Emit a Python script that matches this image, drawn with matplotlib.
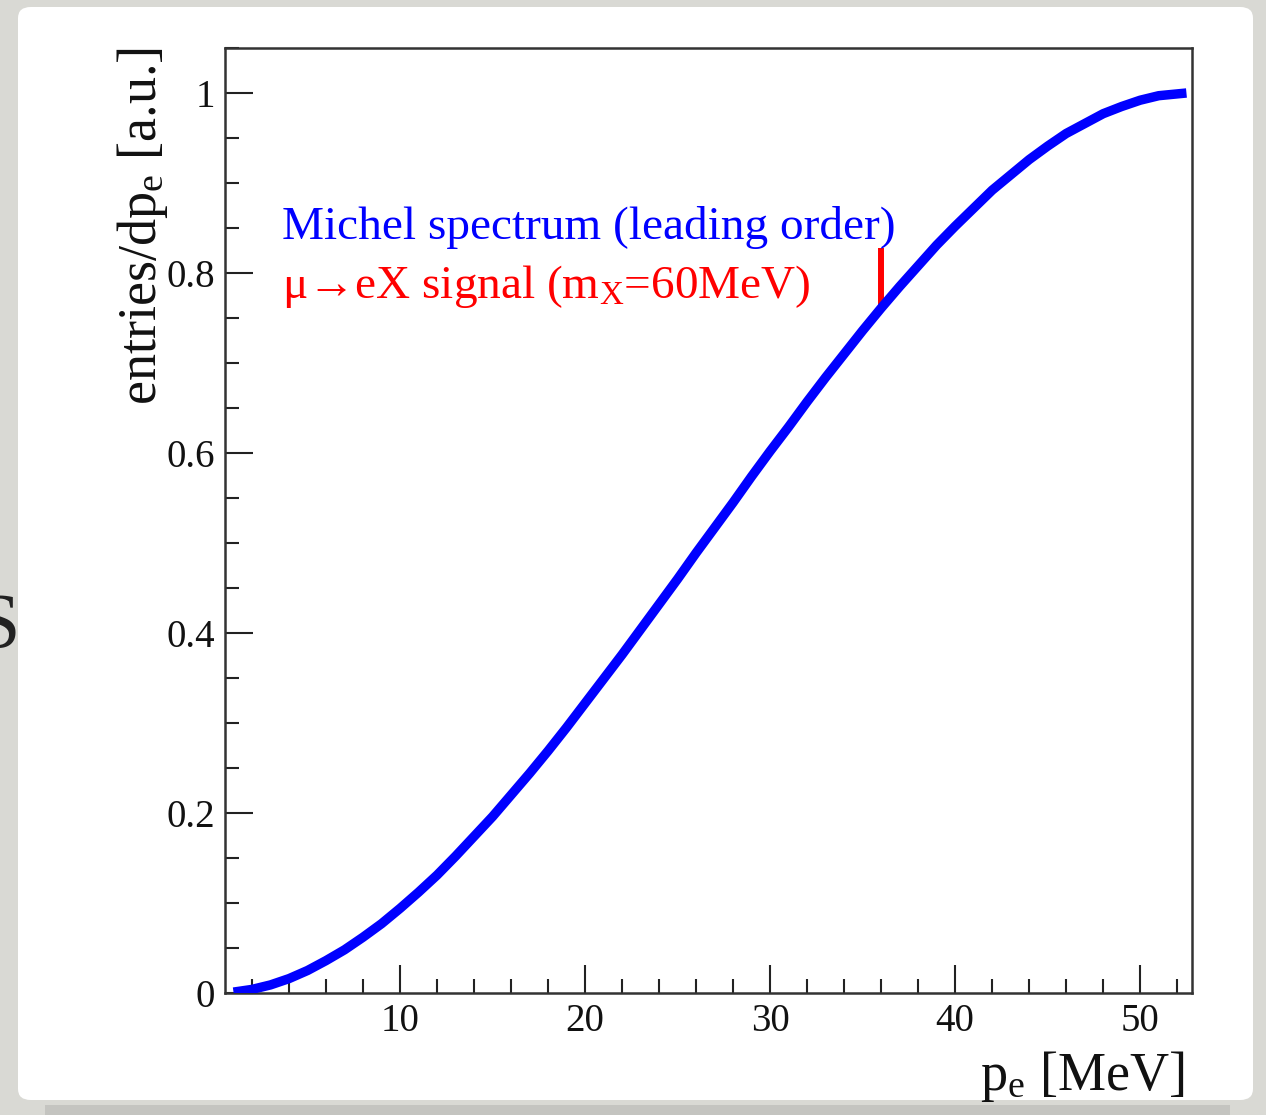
import matplotlib
matplotlib.use("Agg")
import matplotlib.pyplot as plt
from matplotlib.patches import FancyBboxPatch, Rectangle
from matplotlib.ticker import MultipleLocator

# ---- data ----
p_e = [1, 2, 3, 4, 5, 6, 7, 8, 9, 10, 11, 12, 13, 14, 15, 16, 17, 18, 19,
       20, 21, 22, 23, 24, 25, 26, 27, 28, 29, 30, 31, 32, 33, 34, 35, 36,
       37, 38, 39, 40, 41, 42, 43, 44, 45, 46, 47, 48, 49, 50, 51, 52, 52.5]
michel = [0.001, 0.004, 0.009, 0.016, 0.025, 0.036, 0.048, 0.062, 0.077,
          0.094, 0.112, 0.131, 0.152, 0.174, 0.196, 0.220, 0.244, 0.269,
          0.295, 0.322, 0.349, 0.376, 0.404, 0.432, 0.460, 0.489, 0.517,
          0.545, 0.574, 0.602, 0.629, 0.657, 0.684, 0.710, 0.736, 0.761,
          0.785, 0.808, 0.831, 0.852, 0.872, 0.892, 0.909, 0.926, 0.941,
          0.955, 0.966, 0.977, 0.985, 0.992, 0.997, 0.999, 1.000]
signal_x = 36.0
signal_low = 0.761
signal_high = 0.828
x_ticks = [10, 20, 30, 40, 50]
y_ticks = [0, 0.2, 0.4, 0.6, 0.8, 1.0]
y_ticklabels = ["0", "0.2", "0.4", "0.6", "0.8", "1"]

plt.rcParams['font.family'] = ['Liberation Serif', 'DejaVu Serif']
plt.rcParams['mathtext.fontset'] = 'custom'
plt.rcParams['mathtext.rm'] = 'Liberation Serif'
plt.rcParams['mathtext.it'] = 'Liberation Serif:italic'

W, H = 1266, 1115
fig = plt.figure(figsize=(W / 100, H / 100), dpi=100)
fig.patch.set_facecolor('#d9d9d4')

# white slide panel
panel = FancyBboxPatch((18 / W, 1 - 1100 / H), (1253 - 18) / W, (1100 - 7) / H,
                       boxstyle="round,pad=0,rounding_size=0.01",
                       transform=fig.transFigure, facecolor='white',
                       edgecolor='none', zorder=-2)
fig.patches.append(panel)
band = Rectangle((45 / W, 0), (1230 - 45) / W, 10 / H, transform=fig.transFigure,
                 facecolor='#c4c4c0', edgecolor='none', zorder=-1)
fig.patches.append(band)

# partially visible letter from the slide
fig.text(20 / W, 1 - 628 / H, "S", ha='right', va='center', fontsize=56, color='#222222')

ax = fig.add_axes([225 / W, 1 - 993 / H, (1192 - 225) / W, (993 - 48) / H])
ax.set_zorder(5)
ax.set_facecolor('white')

ax.plot(p_e, michel, color='#0000ff', lw=6.8, solid_capstyle='butt', zorder=3)
ax.vlines(signal_x, signal_low, signal_high, color='#ff0000', lw=4.3, zorder=2)

ax.set_xlim(0.54, 52.8)
ax.set_ylim(0, 1.05)

ax.set_xticks(x_ticks)
ax.set_xticklabels([str(t) for t in x_ticks])
ax.xaxis.set_minor_locator(MultipleLocator(2))
ax.set_yticks(y_ticks)
ax.set_yticklabels(y_ticklabels)
ax.yaxis.set_minor_locator(MultipleLocator(0.05))

ax.tick_params(which='both', direction='in', top=False, right=False,
               color='#222222', width=1.5, labelsize=28, labelcolor='#111111')
ax.tick_params(which='major', length=20)
ax.tick_params(which='minor', length=10)
ax.tick_params(axis='y', pad=7)
ax.tick_params(axis='x', pad=7)
for s in ax.spines.values():
    s.set_linewidth(1.8)
    s.set_color('#333333')

ax.text(0.059, 0.798, "Michel spectrum (leading order)", transform=ax.transAxes,
        color='#0000ff', fontsize=34, ha='left', va='baseline')
ax.text(0.059, 0.735, "μ→eX signal (m$_{\\mathrm{X}}$=60MeV)", transform=ax.transAxes,
        color='#ff0000', fontsize=34, ha='left', va='baseline')

fig.text(1184 / W, 1 - 1090 / H, "p$_{\\mathrm{e}}$ [MeV]", ha='right', va='baseline',
         fontsize=39, color='#111111')
fig.text(142 / W, 1 - 47 / H, "entries/dp$_{\\mathrm{e}}$ [a.u.]", rotation=90,
         ha='center', va='top', fontsize=39, color='#111111')

fig.savefig("out.png", dpi=100, facecolor=fig.get_facecolor())
